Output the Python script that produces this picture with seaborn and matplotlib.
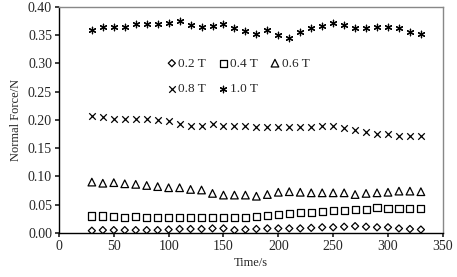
import matplotlib
matplotlib.use("Agg")
import matplotlib.pyplot as plt
import seaborn as sns
import pandas as pd

time_s = [30, 40, 50, 60, 70, 80, 90, 100, 110, 120, 130, 140, 150, 160, 170, 180,
          190, 200, 210, 220, 230, 240, 250, 260, 270, 280, 290, 300, 310, 320, 330]

f_02 = [0.004, 0.005, 0.005, 0.005, 0.005, 0.005, 0.005, 0.006, 0.007, 0.007, 0.007,
        0.008, 0.008, 0.005, 0.006, 0.007, 0.008, 0.008, 0.008, 0.008, 0.009, 0.010,
        0.010, 0.011, 0.012, 0.011, 0.010, 0.010, 0.008, 0.007, 0.006]
f_04 = [0.030, 0.030, 0.029, 0.028, 0.029, 0.028, 0.027, 0.027, 0.027, 0.028, 0.027,
        0.028, 0.027, 0.027, 0.027, 0.029, 0.031, 0.033, 0.034, 0.036, 0.036, 0.038,
        0.039, 0.040, 0.041, 0.042, 0.045, 0.043, 0.043, 0.043, 0.043]
f_06 = [0.090, 0.088, 0.089, 0.087, 0.086, 0.084, 0.082, 0.080, 0.080, 0.077, 0.076,
        0.070, 0.067, 0.067, 0.067, 0.065, 0.068, 0.072, 0.073, 0.072, 0.071, 0.071,
        0.071, 0.071, 0.068, 0.070, 0.071, 0.072, 0.074, 0.074, 0.073]
f_08 = [0.207, 0.205, 0.202, 0.202, 0.202, 0.202, 0.200, 0.198, 0.192, 0.190, 0.190,
        0.192, 0.190, 0.190, 0.190, 0.188, 0.188, 0.188, 0.187, 0.187, 0.188, 0.190,
        0.190, 0.185, 0.182, 0.178, 0.175, 0.175, 0.172, 0.172, 0.172]
f_10 = [0.360, 0.365, 0.365, 0.365, 0.370, 0.370, 0.370, 0.372, 0.375, 0.368, 0.365,
        0.366, 0.370, 0.362, 0.357, 0.352, 0.360, 0.350, 0.345, 0.355, 0.363, 0.367,
        0.372, 0.368, 0.363, 0.363, 0.365, 0.365, 0.362, 0.355, 0.352]

labels = ["0.2 T", "0.4 T", "0.6 T", "0.8 T", "1.0 T"]
series = [f_02, f_04, f_06, f_08, f_10]

sns.set_theme(style="white")
plt.rcParams['font.family'] = ['Liberation Serif', 'DejaVu Serif']

fig = plt.figure(figsize=(4.57, 2.77), dpi=100)
ax = fig.add_axes([0.129, 0.159, 0.840, 0.816])

styles = [
    dict(marker="D", s=13, facecolors="none", edgecolors="black", linewidths=0.9),
    dict(marker="s", s=26, facecolors="none", edgecolors="black", linewidths=0.9),
    dict(marker="^", s=30, facecolors="none", edgecolors="black", linewidths=0.9),
    dict(marker="x", s=22, color="black", linewidths=0.9),
    dict(marker=(6, 2, 0), s=22, color="black", linewidths=0.9),
]

df = pd.DataFrame({"time": time_s})
for lab, vals, st in zip(labels, series, styles):
    df[lab] = vals
    sns.scatterplot(data=df, x="time", y=lab, ax=ax, label=lab, **st)

ax.set_xlim(0, 350)
ax.set_ylim(0, 0.40)
ax.set_xticks(range(0, 351, 50))
ax.set_yticks([i * 0.05 for i in range(9)])
ax.set_yticklabels([f"{i*0.05:.2f}" for i in range(9)])
ax.set_xlabel("Time/s", fontsize=9, labelpad=3)
ax.set_ylabel("Normal Force/N", fontsize=9, labelpad=4)
ax.tick_params(axis="both", labelsize=10, length=3, direction="out", left=True, bottom=True, pad=2)

for side in ["left", "bottom"]:
    ax.spines[side].set_color("black")
    ax.spines[side].set_linewidth(1.0)
for side in ["top", "right"]:
    ax.spines[side].set_color("#888888")
    ax.spines[side].set_linewidth(1.0)

handles, labs = ax.get_legend_handles_labels()
order = [0, 3, 1, 4, 2]
leg = ax.legend([handles[i] for i in order], [labs[i] for i in order],
                loc="upper left", bbox_to_anchor=(0.27, 0.80), ncol=3, frameon=False,
                fontsize=9.5, handlelength=0.6, handletextpad=0.2, columnspacing=1.0,
                labelspacing=1.0, borderaxespad=0)

fig.savefig("out.png", dpi=100)
